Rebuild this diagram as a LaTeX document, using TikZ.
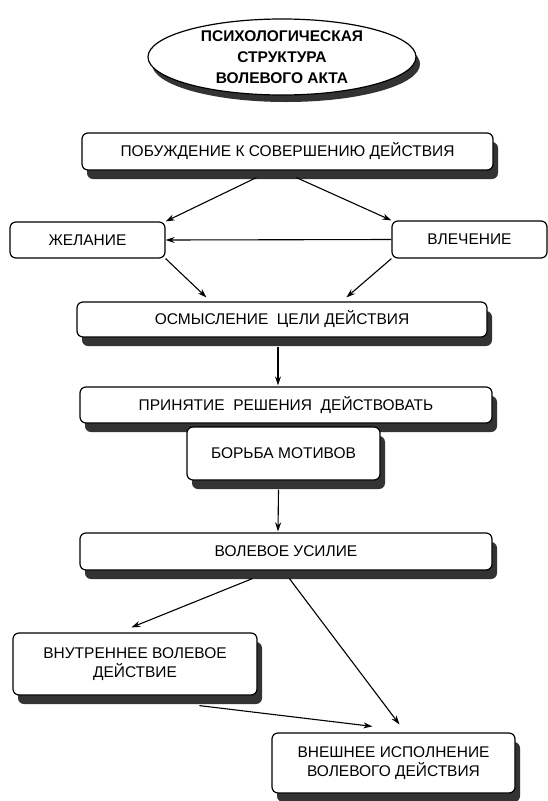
\documentclass[tikz,border=0pt]{standalone}
\usepackage{fontspec}
\setmainfont{Liberation Sans}
\usetikzlibrary{shapes.geometric,shadows,arrows.meta,calc}
\begin{document}
\begin{tikzpicture}[x=1pt,y=-1pt,
  box/.style={draw, line width=1.2pt, rounded corners=6pt, fill=white, align=center, inner sep=0pt,
    font=\fontsize{15.5}{19}\selectfont},
  shbox/.style={box, drop shadow={shadow xshift=5pt, shadow yshift=-9pt, fill=black!80, opacity=1}},
  arr/.style={line width=1.1pt, -{Stealth[length=9pt,width=6pt]}}]
\fill[white] (0,0) rectangle (548,801);
\useasboundingbox (0,0) rectangle (548,801);

\node[ellipse, draw, line width=1.2pt, fill=white, minimum width=268pt, minimum height=76pt, inner sep=0pt,
  align=center, font=\bfseries\fontsize{15.5}{21}\selectfont,
  drop shadow={shadow xshift=4pt, shadow yshift=-7pt, fill=black!80, opacity=1}]
  (title) at (282,57) {ПСИХОЛОГИЧЕСКАЯ\\СТРУКТУРА\\ВОЛЕВОГО АКТА};

\node[shbox, minimum width=411pt, minimum height=37pt] (pob) at (287.5,151.5) {ПОБУЖДЕНИЕ К СОВЕРШЕНИЮ ДЕЙСТВИЯ};
\node[box, minimum width=155pt, minimum height=36pt] (zhel) at (87.5,240) {ЖЕЛАНИЕ};
\node[box, minimum width=155pt, minimum height=37pt] (vlech) at (469.5,239.5) {ВЛЕЧЕНИЕ};
\node[shbox, minimum width=410pt, minimum height=35pt] (osm) at (282,319.5) {ОСМЫСЛЕНИЕ\ \ ЦЕЛИ ДЕЙСТВИЯ};
\node[shbox, minimum width=412pt, minimum height=36pt] (prin) at (286,405) {ПРИНЯТИЕ\ \ РЕШЕНИЯ\ \ ДЕЙСТВОВАТЬ};
\node[shbox, minimum width=193pt, minimum height=53pt] (borba) at (283.5,453.5) {БОРЬБА МОТИВОВ};
\node[shbox, minimum width=412pt, minimum height=37pt] (vol) at (286,551.5) {ВОЛЕВОЕ УСИЛИЕ};
\node[shbox, minimum width=244pt, minimum height=62pt] (vnutr) at (135,664) {ВНУТРЕННЕЕ ВОЛЕВОЕ\\ДЕЙСТВИЕ};
\node[shbox, minimum width=243pt, minimum height=60pt] (vnesh) at (393.5,763) {ВНЕШНЕЕ ИСПОЛНЕНИЕ\\ВОЛЕВОГО ДЕЙСТВИЯ};

\draw[arr] ($(pob.south west)+(175,7)$) -- (zhel.north east);
\draw[arr] ($(pob.south west)+(215,7)$) -- (vlech.north west);
\draw[arr] (vlech.west) -- (zhel.east);
\draw[arr] (zhel.south east) -- ($(osm.north west)+(130,-4)$);
\draw[arr] (vlech.south west) -- ($(osm.north west)+(270,-4)$);
\draw[arr] ($(osm.south)+(-4,9)$) -- ($(prin.north)+(-8,-1)$);
\draw[arr] ($(borba.south)+(-5,9)$) -- ($(vol.north)+(-8,-1)$);
\draw[arr] ($(vol.south west)+(173,8)$) -- ($(vnutr.north west)+(119,-5)$);
\draw[arr] ($(vol.south west)+(210,8)$) -- ($(vnesh.north west)+(128,-8)$);
\draw[arr] ($(vnutr.south west)+(187,10)$) -- ($(vnesh.north west)+(101,-6)$);
\end{tikzpicture}
\end{document}
